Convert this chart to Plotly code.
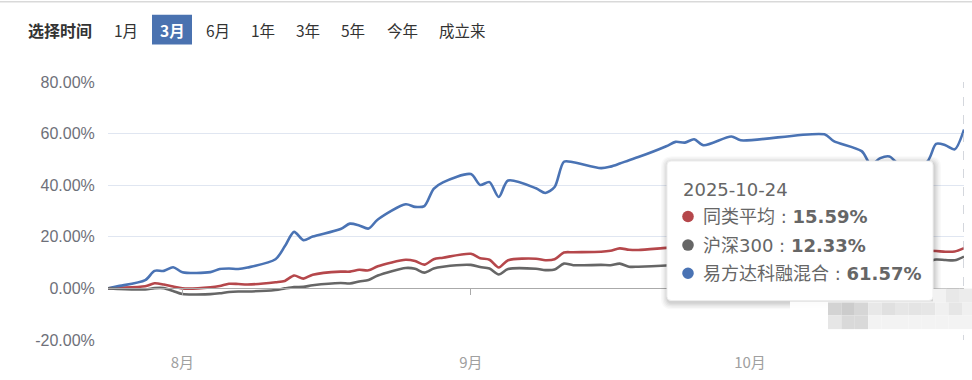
import plotly.graph_objects as go

# ---------------- data ----------------
dates = [
    "2025-07-24", "2025-07-25", "2025-07-28", "2025-07-29", "2025-07-30", "2025-07-31",
    "2025-08-01", "2025-08-04", "2025-08-05", "2025-08-06", "2025-08-07", "2025-08-08",
    "2025-08-11", "2025-08-12", "2025-08-13", "2025-08-14", "2025-08-15",
    "2025-08-18", "2025-08-19", "2025-08-20", "2025-08-21", "2025-08-22",
    "2025-08-25", "2025-08-26", "2025-08-27", "2025-08-28", "2025-08-29",
    "2025-09-01", "2025-09-02", "2025-09-03", "2025-09-04", "2025-09-05",
    "2025-09-08", "2025-09-09", "2025-09-10", "2025-09-11", "2025-09-12",
    "2025-09-15", "2025-09-16", "2025-09-17", "2025-09-18", "2025-09-19",
    "2025-09-22", "2025-09-23", "2025-09-24", "2025-09-25", "2025-09-26",
    "2025-09-29", "2025-09-30",
    "2025-10-09", "2025-10-10",
    "2025-10-13", "2025-10-14", "2025-10-15", "2025-10-16", "2025-10-17",
    "2025-10-20", "2025-10-21", "2025-10-22", "2025-10-23", "2025-10-24",
]

peer_avg = [
    0.0, 0.2, 0.8, 2.0, 1.5, 0.7,
    0.0, 0.4, 0.9, 1.8, 1.7, 1.5,
    2.4, 2.9, 5.0, 3.8, 5.3,
    6.5, 6.5, 7.2, 7.0, 8.6,
    11.1, 10.6, 9.2, 11.3, 11.9,
    13.4, 11.7, 11.1, 8.1, 10.9,
    11.5, 10.9, 11.3, 13.9, 14.0,
    14.2, 14.6, 15.5, 15.0, 14.9,
    15.7, 15.9, 15.7, 16.2, 15.5,
    16.5, 16.3,
    17.0, 16.2,
    15.3, 14.6, 15.2, 15.4, 14.3,
    14.6, 14.5, 14.2, 14.3, 15.59,
]

hs300 = [
    0.0, -0.2, -0.4, 0.1, 0.1, -1.0,
    -2.2, -2.2, -1.9, -1.4, -1.2, -1.2,
    -0.6, 0.0, 0.5, 0.6, 1.2,
    2.1, 1.9, 2.7, 3.3, 5.0,
    7.9, 7.6, 6.1, 7.7, 8.4,
    9.1, 8.3, 7.7, 5.4, 7.5,
    7.6, 7.1, 7.3, 9.6, 9.0,
    9.1, 9.0, 9.6, 8.4, 8.4,
    8.9, 9.2, 9.0, 9.5, 8.8,
    10.0, 10.2,
    11.5, 10.5,
    9.6, 9.7, 10.5, 10.6, 9.3,
    10.3, 11.2, 11.0, 10.9, 12.33,
]

fund = [
    0.0, 0.8, 3.2, 6.8, 6.8, 8.2,
    6.3, 6.3, 7.5, 7.7, 7.5, 8.1,
    11.3, 16.3, 21.9, 18.7, 20.1,
    23.0, 25.1, 24.4, 23.2, 26.7,
    32.6, 31.6, 31.9, 38.6, 41.1,
    44.3, 40.1, 41.2, 35.4, 41.8,
    38.8, 37.0, 39.3, 49.1, 48.9,
    46.6, 47.2, 48.4, 49.7, 50.9,
    55.1, 56.8, 56.5, 57.8, 55.5,
    58.9, 57.4,
    59.7, 57.1,
    53.2, 48.0, 50.5, 51.1, 48.2,
    49.0, 56.0, 55.5, 53.9, 61.57,
]

series_names = ["同类平均", "沪深300", "易方达科融混合"]
series_values = [peer_avg, hs300, fund]
series_colors = ["#b5474b", "#666666", "#4a73b4"]

y_ticks = [-20, 0, 20, 40, 60, 80]
month_ticks = ["2025-08-01", "2025-09-01", "2025-10-01"]
month_labels = ["8月", "9月", "10月"]

period_label = "选择时间"
period_buttons = ["1月", "3月", "6月", "1年", "3年", "5年", "今年", "成立来"]
period_centers = [125.5, 172, 217.5, 262.5, 308, 353, 402.5, 462.5]
active_period = "3月"

# ---------------- geometry ----------------
W, H = 972, 380
ML, MR, MT, MB = 108, 8, 82, 37
PW, PH = W - ML - MR, H - MT - MB

def px(xp):
    return (xp - ML) / PW

def py(yp):
    return (H - MB - yp) / PH

FONT = "Liberation Sans, Arial, Noto Sans CJK SC, sans-serif"
CJK = "Microsoft YaHei, Noto Sans CJK SC, Liberation Sans, sans-serif"
TIP = "DejaVu Sans, Noto Sans CJK SC, sans-serif"

fig = go.Figure()

for name, vals, col in zip(series_names, series_values, series_colors):
    fig.add_trace(go.Scatter(
        x=dates, y=vals, name=name, mode="lines",
        line=dict(color=col, width=2.6, shape="spline", smoothing=0.8),
        hoverinfo="skip", xaxis="x2" if name == "沪深300" else "x",
    ))

shapes = []
annotations = []

# top thin border
shapes.append(dict(type="rect", xref="paper", yref="paper",
                   x0=px(0), x1=px(W), y0=py(1.5), y1=py(0),
                   fillcolor="#d9d9d9", line=dict(width=0), layer="above"))

# period selector
annotations.append(dict(text=f"<b>{period_label}</b>", xref="paper", yref="paper",
                        x=px(26), y=py(29.5), xanchor="left", yanchor="middle",
                        showarrow=False, font=dict(family=CJK, size=16, color="#333333")))
for lab, cx in zip(period_buttons, period_centers):
    active = lab == active_period
    if active:
        shapes.append(dict(type="rect", xref="paper", yref="paper",
                           x0=px(152), x1=px(192), y0=py(44), y1=py(14),
                           fillcolor="#4a72b0", line=dict(width=0), layer="above"))
    annotations.append(dict(text=f"<b>{lab}</b>" if active else lab,
                            xref="paper", yref="paper", x=px(cx), y=py(29.5),
                            xanchor="center", yanchor="middle", showarrow=False,
                            font=dict(family=CJK, size=15.5,
                                      color="#ffffff" if active else "#333333")))

# dashed axis pointer at last date
shapes.append(dict(type="line", xref="x", yref="paper", x0=dates[-1], x1=dates[-1],
                   y0=0, y1=1, line=dict(color="#b8bcc6", width=1.2, dash="dash"),
                   layer="above"))

# tooltip
def rounded(x0, y0, x1, y1, r):
    return (f"M {px(x0 + r)} {py(y0)} L {px(x1 - r)} {py(y0)} "
            f"Q {px(x1)} {py(y0)} {px(x1)} {py(y0 + r)} "
            f"L {px(x1)} {py(y1 - r)} Q {px(x1)} {py(y1)} {px(x1 - r)} {py(y1)} "
            f"L {px(x0 + r)} {py(y1)} Q {px(x0)} {py(y1)} {px(x0)} {py(y1 - r)} "
            f"L {px(x0)} {py(y0 + r)} Q {px(x0)} {py(y0)} {px(x0 + r)} {py(y0)} Z")

TX0, TY0, TX1, TY1 = 667, 162, 933, 303
for i, a in enumerate([0.025, 0.03, 0.035, 0.04, 0.05]):
    g = 7 - i * 1.4
    shapes.append(dict(type="path", xref="paper", yref="paper",
                       path=rounded(TX0 - g + 1, TY0 - g + 2, TX1 + g + 1, TY1 + g + 2, 4 + g),
                       fillcolor=f"rgba(0,0,0,{a})", line=dict(width=0), layer="above"))
shapes.append(dict(type="path", xref="paper", yref="paper",
                   path=rounded(TX0, TY0, TX1, TY1, 4),
                   fillcolor="#ffffff", line=dict(color="#eeeeee", width=1), layer="above"))

annotations.append(dict(text=dates[-1], xref="paper", yref="paper", x=px(681), y=py(191),
                        xanchor="left", yanchor="middle", showarrow=False,
                        font=dict(family=TIP, size=18, color="#666666")))
row_y = [218, 247, 275.5]
for name, vals, col, ry in zip(series_names, series_values, series_colors, row_y):
    r = 5.8
    shapes.append(dict(type="circle", xref="paper", yref="paper",
                       x0=px(688 - r), x1=px(688 + r), y0=py(ry + r), y1=py(ry - r),
                       fillcolor=col, line=dict(width=0), layer="above"))
    annotations.append(dict(text=f"{name}&nbsp;:&nbsp;<b>{vals[-1]:.2f}%</b>",
                            xref="paper", yref="paper", x=px(701), y=py(ry),
                            xanchor="left", yanchor="middle", showarrow=False,
                            font=dict(family=TIP, size=18, color="#666666")))

# mosaic watermark
shapes.append(dict(type="rect", xref="paper", yref="paper",
                   x0=px(790), x1=px(972), y0=py(338), y1=py(304),
                   fillcolor="rgba(255,255,255,0.92)", line=dict(width=0), layer="above"))
row1 = ["#d3d3d3", "#cccccc", "#d6d6d6", "#e8e8e8", "#e0e0e0", "#e6e6e6",
        "#e4e4e4", "#e6e6e6", "#f0f0f0", "#e6e6e6", "#f0f0f0"]
row2 = ["#e6e6e6", "#d9d9d9", "#d9d9d9", "#f3f3f3", "#f3f3f3", "#f3f3f3",
        "#f3f3f3", "#f3f3f3", "#f3f3f3", "#f3f3f3", "#f3f3f3"]
bw = 13.4
for i, (c1, c2) in enumerate(zip(row1, row2)):
    bx = 828 + i * bw
    shapes.append(dict(type="rect", xref="paper", yref="paper",
                       x0=px(bx), x1=px(min(bx + bw, W)), y0=py(318), y1=py(305),
                       fillcolor=c1, line=dict(width=0), layer="above"))
    shapes.append(dict(type="rect", xref="paper", yref="paper",
                       x0=px(bx), x1=px(min(bx + bw, W)), y0=py(332), y1=py(318),
                       fillcolor=c2, line=dict(width=0), layer="above"))
for bx, c in [(933, "#f2f2f2"), (946, "#e8e8e8"), (959, "#ececec")]:
    shapes.append(dict(type="rect", xref="paper", yref="paper",
                       x0=px(bx), x1=px(min(bx + 13.4, W)), y0=py(305), y1=py(291),
                       fillcolor=c, line=dict(width=0), layer="above"))

fig.update_layout(
    width=W, height=H,
    margin=dict(l=ML, r=MR, t=MT, b=MB, pad=0),
    paper_bgcolor="#ffffff", plot_bgcolor="#ffffff",
    showlegend=False, hovermode=False,
    font=dict(family=FONT),
    shapes=shapes, annotations=annotations,
    xaxis=dict(
        type="date", range=[dates[0], dates[-1]],
        tickvals=month_ticks, ticktext=month_labels,
        tickfont=dict(family=CJK, size=15, color="#a0a0a0"),
        ticks="outside", ticklen=9, tickcolor="rgba(0,0,0,0)",
        showgrid=False, zeroline=False, showline=False,
    ),
    xaxis2=dict(
        type="date", matches="x", overlaying="x", anchor="free",
        position=(0 - y_ticks[0]) / (y_ticks[-1] - y_ticks[0]),
        tickvals=month_ticks, showticklabels=False,
        ticks="outside", ticklen=6, tickcolor="#aaaaaa",
        showline=True, linecolor="#aaaaaa", linewidth=1,
        showgrid=False, zeroline=False,
    ),
    yaxis=dict(
        range=[y_ticks[0], y_ticks[-1]], tickvals=y_ticks,
        ticktext=[f"{v:.2f}%" for v in y_ticks],
        tickfont=dict(family=FONT, size=16, color="#6e7079"),
        ticks="outside", ticklen=9, tickcolor="rgba(0,0,0,0)",
        showgrid=True, gridcolor="#e0e6f1", gridwidth=1,
        zeroline=False, showline=False,
    ),
)

fig.write_html("out.html")
